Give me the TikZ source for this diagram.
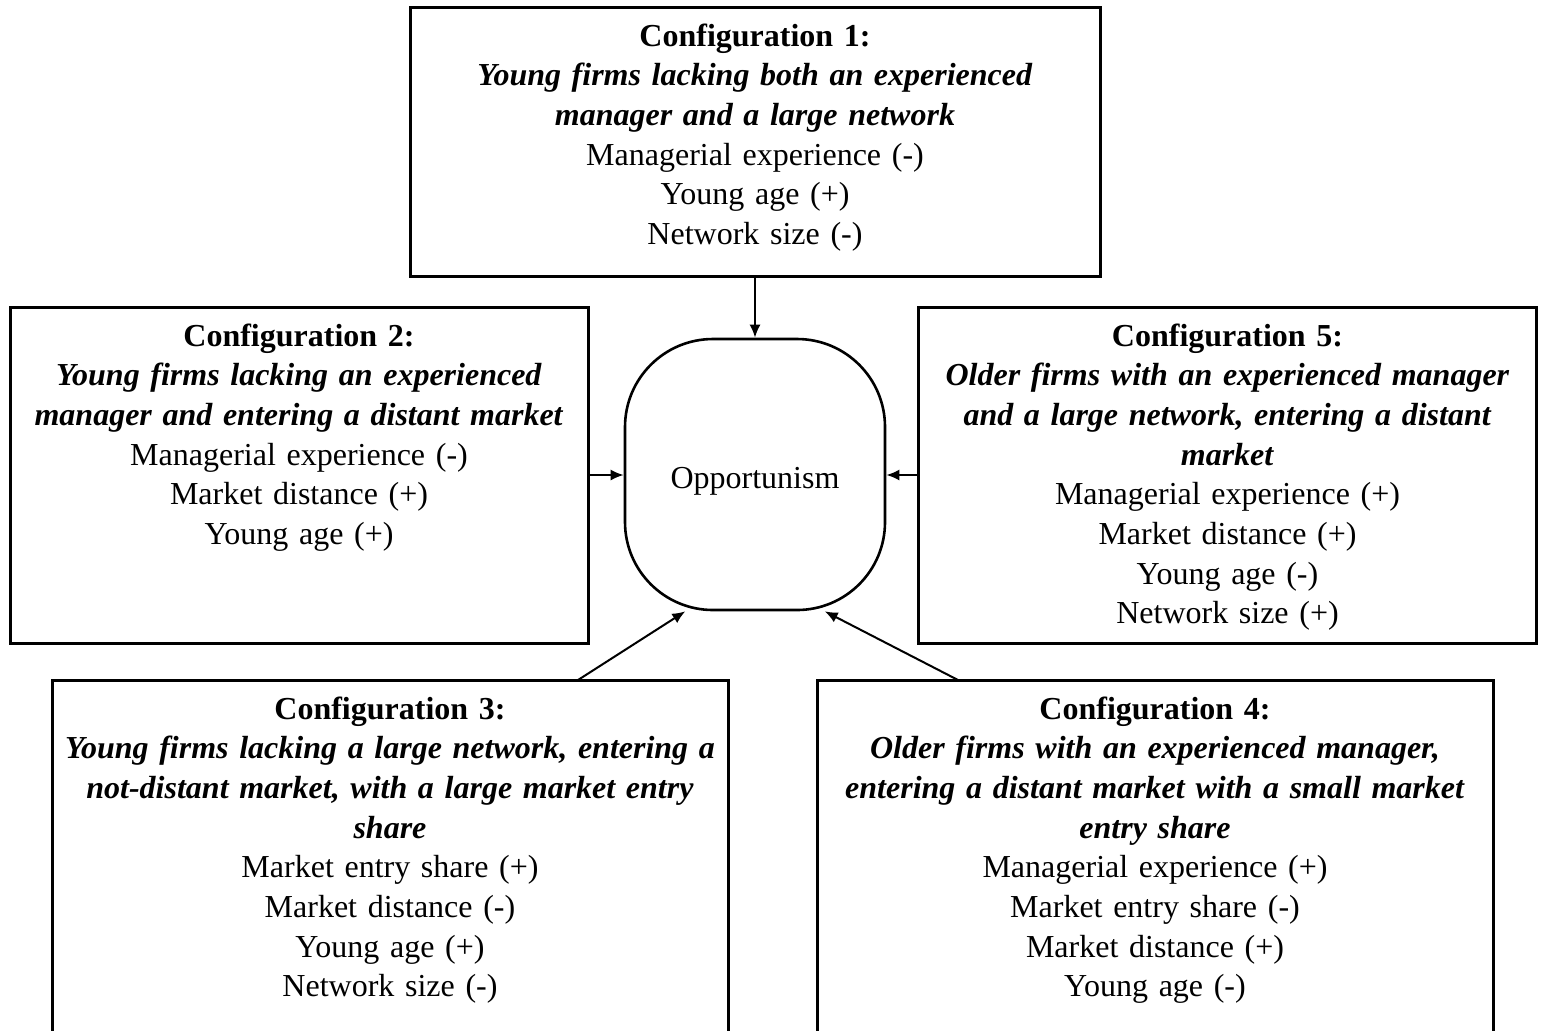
\documentclass[tikz,border=0pt]{standalone}
\usepackage{fontspec}
\setmainfont{Liberation Serif}
\usepackage{tikz}
\usetikzlibrary{arrows.meta}

\tikzset{
  cbox/.style={rectangle,draw=black,line width=1.5pt,inner sep=0pt},
  ctext/.style={anchor=base,align=center,inner sep=0pt,font=\fontsize{16pt}{19.85pt}\selectfont},
  hub/.style={rectangle,draw=black,line width=1.3pt,rounded corners=44pt,inner sep=0pt,text height=13.5pt,text depth=0pt,font=\fontsize{16pt}{19.85pt}\selectfont},
  link/.style={-{Latex[length=6.5pt,width=5.5pt]},line width=1pt}
}
\newcommand{\cfgtitle}[1]{\textbf{#1}}
\newcommand{\cfgdesc}[1]{\textbf{\textit{#1}}}

\begin{document}
\begin{tikzpicture}[x=0.5pt,y=-0.5pt]
\useasboundingbox (0,0) rectangle (1545,1030);
\clip (0,0) rectangle (1545,1030);

\node (c1) at (755,141.5) [cbox,minimum width=345pt,minimum height=134.5pt]{};
\node (c2) at (299,475) [cbox,minimum width=289pt,minimum height=168pt]{};
\node (c5) at (1227.5,475) [cbox,minimum width=309pt,minimum height=168pt]{};
\node (c3) at (390,870) [cbox,minimum width=338pt,minimum height=190pt]{};
\node (c4) at (1155,870) [cbox,minimum width=338pt,minimum height=190pt]{};
\node (opp) at (755,474.5) [hub,minimum width=130pt,minimum height=135.5pt]{Opportunism};

\node (c1t) at (755,46) [ctext,text width=335pt]{\cfgtitle{Configuration 1:}\\
  \cfgdesc{Young firms lacking both an experienced}\\
  \cfgdesc{manager and a large network}\\
  Managerial experience (-)\\
  Young age (+)\\
  Network size (-)};
\node (c2t) at (299,346) [ctext,text width=280pt]{\cfgtitle{Configuration 2:}\\
  \cfgdesc{Young firms lacking an experienced}\\
  \cfgdesc{manager and entering a distant market}\\
  Managerial experience (-)\\
  Market distance (+)\\
  Young age (+)};
\node (c5t) at (1227.5,346) [ctext,text width=300pt]{\cfgtitle{Configuration 5:}\\
  \cfgdesc{Older firms with an experienced manager}\\
  \cfgdesc{and a large network, entering a distant}\\
  \cfgdesc{market}\\
  Managerial experience (+)\\
  Market distance (+)\\
  Young age (-)\\
  Network size (+)};
\node (c3t) at (390,719) [ctext,text width=330pt]{\cfgtitle{Configuration 3:}\\
  \cfgdesc{Young firms lacking a large network, entering a}\\
  \cfgdesc{not-distant market, with a large market entry}\\
  \cfgdesc{share}\\
  Market entry share (+)\\
  Market distance (-)\\
  Young age (+)\\
  Network size (-)};
\node (c4t) at (1155,719) [ctext,text width=330pt]{\cfgtitle{Configuration 4:}\\
  \cfgdesc{Older firms with an experienced manager,}\\
  \cfgdesc{entering a distant market with a small market}\\
  \cfgdesc{entry share}\\
  Managerial experience (+)\\
  Market entry share (-)\\
  Market distance (+)\\
  Young age (-)};

\coordinate (c3a) at (578,680);
\coordinate (c4a) at (958,680);
\draw[link] (c1.south) -- (opp.north);
\draw[link] (c2.east) -- (c2.east -| opp.west);
\draw[link] (c5.west) -- (c5.west -| opp.east);
\draw[link] (c3a) -- (opp.243);
\draw[link] (c4a) -- (opp.297);
\end{tikzpicture}
\end{document}
